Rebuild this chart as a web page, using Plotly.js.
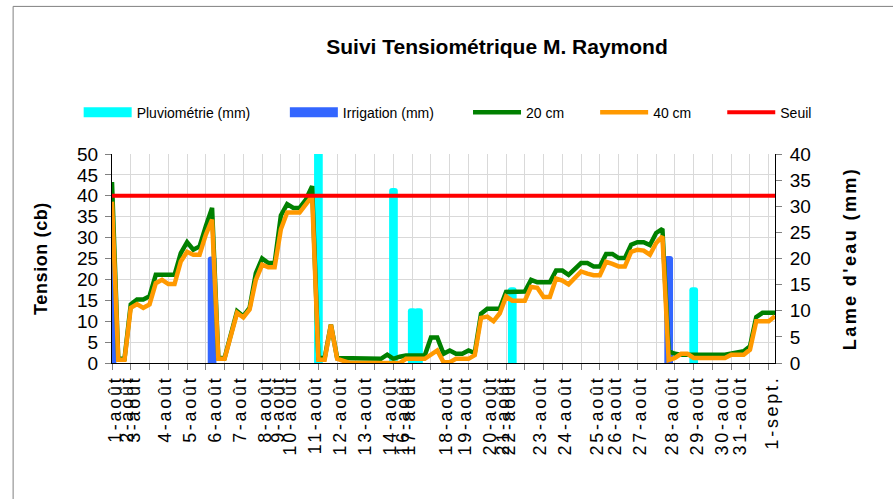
<!DOCTYPE html>
<html>
<head>
<meta charset="utf-8">
<script src="https://cdn.plot.ly/plotly-3.0.1.min.js"></script>
<style>
html,body{margin:0;padding:0;background:#fff;}
#chart{width:893px;height:499px;}
.xtick text, text.xtick, .x2tick text, text.x2tick{letter-spacing:2.7px;}
.g-y2title text{letter-spacing:0.6px;}
.g-ytitle text{letter-spacing:2.4px;}
</style>
</head>
<body>
<div id="chart"></div>
<script>
// Category index of each day label (first reading of each day)
const tickIdx = [0,2,3,8,12,16,20,24,26,28,32,36,40,44,46,47,53,56,60,62,63,68,72,77,80,84,89,93,97,100,105];
const tickText = ['1-août','2-août','3-août','4-août','5-août','6-août','7-août','8-août','9-août','10-août',
  '11-août','12-août','13-août','14-août','16-août','17-août','18-août','19-août','20-août','21-août',
  '22-août','23-août','24-août','25-août','26-août','27-août','28-août','29-août','30-août','31-août','1-sept.'];

// Tension 20 cm (cb)
const t20Idx = [0,1,2,3,4,5,6,7,8,9,10,11,12,13,14,15,16,17,18,20,21,22,23,24,25,26,27,28,29,30,31,32,33,34,35,36,
  43,44,45,46,47,50,51,52,53,54,55,56,57,58,59,60,61,62,63,64,65,66,67,68,69,70,71,72,73,75,76,77,78,79,80,81,82,
  83,84,85,86,87,88,89,90,91,98,99,100,101,102,103,104,105,106];
const t20Val = [43.3,1,1,14,15.2,15.2,16,21.1,21.1,21.1,21.1,26.3,28.9,27.1,27.9,32.7,37.1,1.2,1.2,12.4,11.2,13.2,21.5,25,23.9,23.9,
  35.3,38,37.1,37.1,39.1,42.3,1.2,1.2,9.2,1.2,
  1,2,1,1.5,1.8,1.8,6.1,6.1,2.2,3,2.2,2.2,3,2.4,11.8,13,13,13,17,17,17,17.1,19.9,19.3,19.3,19.3,22.1,22.1,21.1,23.9,23.9,23.1,23.1,26.1,26.1,25.1,25.1,
  28.3,28.9,28.9,28.2,31.1,32.1,2.8,2.2,2,2,2.2,2.4,2.8,4,11,12,12,12];

// Tension 40 cm (cb)
const t40Idx = [0,1,2,3,4,5,6,7,8,9,10,11,12,13,14,15,16,17,18,20,21,22,23,24,25,26,27,28,29,30,32,33,34,35,36,37,38,
  46,47,50,52,53,54,55,56,57,58,59,60,61,62,63,64,65,66,67,68,69,70,71,72,73,75,76,77,78,79,80,81,82,
  83,84,85,86,87,88,89,90,91,92,93,98,99,100,101,102,103,104,105,106];
const t40Val = [38.6,0.8,0.8,13.2,14.1,13.2,14,19.1,19.9,18.9,18.9,24.3,26.6,25.9,25.9,30.7,34.3,1,1,12,10.9,12.8,19.9,23.5,22.9,22.9,
  32,36,36,36,39.9,0.8,0.8,9.2,1,0.5,0,
  0,1,1,3,0.2,0.2,1,1,1,1.9,10.8,11.1,10,11.9,15.9,14.9,14.9,14.9,18.2,18,15.8,15.8,20.2,19.7,18.8,21.9,21.4,21,21,24.2,23.7,23.1,23.1,
  26.6,27.1,26.9,25.9,28.7,30.3,0.7,1.2,2.2,2.2,1.2,1.2,2,2,2,3.2,10,10,10,11.2];

// Pluviométrie (mm) and Irrigation (mm)
const pluvioIdx = [33,45,48,49,64,93];
const pluvioVal = [45,33.5,10.5,10.5,14.5,14.5];
const irrigIdx = [0,16,89];
const irrigVal = [20.4,20.4,20.5];

// Seuil (cb)
const seuilIdx = [0,106];
const seuilVal = [40,40];

const FONT = 'Liberation Sans, Arial, sans-serif';
const L = 112.3, W = 662.4, B = 363.3, H = 209;
const px2x = p => (p - L) / W;
const py2y = p => (B - p) / H;
const LABEL_SHIFT = 0.5; // labels sit slightly right of their category

const barW = 1.39;
const traces = [
  {type:'bar', x:pluvioIdx, y:pluvioVal, xaxis:'x', yaxis:'y', width:barW,
   marker:{color:'#00FFFF', cornerradius:3}, showlegend:false, name:'Pluviométrie (mm)', hoverinfo:'skip'},
  {type:'bar', x:irrigIdx, y:irrigVal, xaxis:'x', yaxis:'y', width:barW,
   marker:{color:'#3366FF', cornerradius:3}, showlegend:false, name:'Irrigation (mm)', hoverinfo:'skip'},
  // legend swatches for the bar series
  {type:'scatter', mode:'lines', x:[null], y:[null], xaxis:'x2', yaxis:'y2', name:'Pluviométrie (mm)',
   line:{color:'#00FFFF', width:10}, legend:'legend'},
  {type:'scatter', mode:'lines', x:[null], y:[null], xaxis:'x2', yaxis:'y2', name:'Irrigation (mm)',
   line:{color:'#3366FF', width:10}, legend:'legend2'},
  {type:'scatter', mode:'lines', x:t20Idx, y:t20Val, xaxis:'x2', yaxis:'y2', name:'20 cm',
   line:{color:'#008000', width:4.5}, cliponaxis:false, legend:'legend3'},
  {type:'scatter', mode:'lines', x:t40Idx, y:t40Val, xaxis:'x2', yaxis:'y2', name:'40 cm',
   line:{color:'#FF9900', width:4.5}, cliponaxis:false, legend:'legend4'},
  {type:'scatter', mode:'lines', x:seuilIdx, y:seuilVal, xaxis:'x2', yaxis:'y2', name:'Seuil',
   line:{color:'#FF0000', width:4}, cliponaxis:false, legend:'legend5'}
];

function leg(pxLeft){
  return {x:px2x(pxLeft), y:py2y(113), xref:'paper', yref:'paper', xanchor:'left', yanchor:'middle',
    orientation:'h', itemwidth:48, bgcolor:'rgba(0,0,0,0)', borderwidth:0, font:{family:FONT, size:14, color:'#000'}};
}

const layout = {
  width:893, height:499,
  margin:{l:112, r:118, t:154, b:136},
  paper_bgcolor:'#fff', plot_bgcolor:'#fff',
  font:{family:FONT, color:'#000'},
  barmode:'overlay',
  showlegend:true,
  title:{text:'<b>Suivi Tensiométrique M. Raymond</b>', font:{family:FONT, size:21, color:'#000'},
    x:497/893, xref:'container', xanchor:'center', y:1-47/499, yref:'container', yanchor:'middle'},
  xaxis:{range:[0,106], tickmode:'linear', tick0:0, dtick:3, showticklabels:false,
    ticks:'outside', ticklen:6, tickcolor:'#808080', tickwidth:1,
    showgrid:true, gridcolor:'#d9d9d9', gridwidth:1, zeroline:false,
    showline:true, linecolor:'#000', linewidth:1, fixedrange:true},
  xaxis2:{range:[0,106], overlaying:'x', anchor:'y2', side:'bottom', tickmode:'array',
    tickvals:tickIdx.map(i => i + LABEL_SHIFT), ticktext:tickText,
    tickangle:-90, ticks:'', showgrid:false, zeroline:false, showline:false,
    tickfont:{family:FONT, size:18, color:'#000'}, ticklabelstandoff:8, fixedrange:true},
  yaxis:{range:[0,40], side:'right', tickmode:'linear', tick0:0, dtick:5, ticks:'outside', ticklen:6,
    tickcolor:'#808080', showgrid:false, zeroline:false, showline:true, linecolor:'#000', linewidth:1,
    tickfont:{family:FONT, size:19, color:'#000'}, ticklabelstandoff:4,
    title:{text:"<b>Lame d'eau (mm)</b>", font:{family:FONT, size:18, color:'#000'}, standoff:33}, fixedrange:true},
  yaxis2:{range:[0,50], overlaying:'y', side:'left', anchor:'x', tickmode:'linear', tick0:0, dtick:5, ticks:'outside', ticklen:6,
    tickcolor:'#808080', showgrid:true, gridcolor:'#d9d9d9', gridwidth:1, zeroline:false, showline:true, linecolor:'#000', linewidth:1,
    tickfont:{family:FONT, size:19, color:'#000'}, ticklabelstandoff:3,
    title:{text:'<b>Tension (cb)</b>', font:{family:FONT, size:18, color:'#000'}, standoff:24}, fixedrange:true},
  legend:leg(79), legend2:leg(285), legend3:leg(468), legend4:leg(595), legend5:leg(722),
  shapes:[
    {type:'rect', xref:'paper', yref:'paper', x0:px2x(13.5), x1:px2x(1000), y0:py2y(600), y1:py2y(6.7),
     line:{color:'#808080', width:1}, fillcolor:'rgba(0,0,0,0)', layer:'below'}
  ]
};

Plotly.newPlot('chart', traces, layout, {displayModeBar:false, staticPlot:true});
</script>
</body>
</html>
